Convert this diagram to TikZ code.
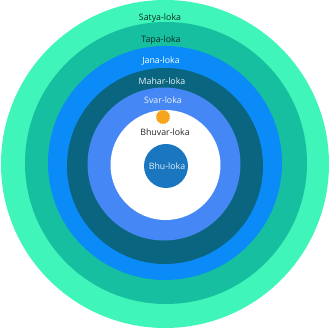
\documentclass[tikz,border=0pt]{standalone}
\usepackage{fontspec}
\setmainfont{Open Sans}
\usetikzlibrary{shapes.geometric}
\definecolor{cmint}{HTML}{3FF5B9}
\definecolor{cteal}{HTML}{15BFA0}
\definecolor{cblue}{HTML}{0B8BF8}
\definecolor{cdteal}{HTML}{0A6580}
\definecolor{clblue}{HTML}{4588F5}
\definecolor{cbhu}{HTML}{1A76BE}
\definecolor{csun}{HTML}{F8A51E}
\definecolor{cdark}{HTML}{0C2A22}
\tikzset{
  x=1pt,y=-1pt,
  ring/.style={circle,inner sep=0pt,outer sep=0pt,draw=none},
  lbl/.style={font=\fontsize{8.8}{10}\selectfont,inner sep=0pt},
}
\begin{document}
\begin{tikzpicture}
\useasboundingbox (0,0) rectangle (330,328);
\node[ring,fill=cmint,minimum size=328] (satya) at (165,164) {};
\node[ring,fill=cteal,minimum size=282] (tapa) at (166,163) {};
\node[ring,fill=cblue,minimum size=234] (jana) at (165,163) {};
\node[ring,fill=cdteal,minimum size=196] (mahar) at (165,166) {};
\node[ring,fill=clblue,minimum size=153] (svar) at (164,164) {};
\node[ring,fill=white,minimum size=110] (bhuvar) at (165.5,165) {};
\node[ring,fill=cbhu,minimum size=44] (bhu) at (166,166) {};
\node[star,star points=18,star point ratio=1.15,fill=csun,inner sep=0pt,minimum size=14.5] (sun) at (163,117) {};
\node[lbl,text=cdark] (tsatya) at (160,18) {Satya-loka};
\node[lbl,text=cdark] (ttapa) at (161,40) {Tapa-loka};
\node[lbl,text=white] (tjana) at (161,61) {Jana-loka};
\node[lbl,text=white!92!cdteal] (tmahar) at (162,81) {Mahar-loka};
\node[lbl,text=white!90!clblue] (tsvar) at (163,100) {Svar-loka};
\node[lbl,text=black!85] (tbhuvar) at (165,132) {Bhuvar-loka};
\node[lbl,text=white!88!cbhu] (tbhu) at (167,166) {Bhu-loka};
\end{tikzpicture}
\end{document}
